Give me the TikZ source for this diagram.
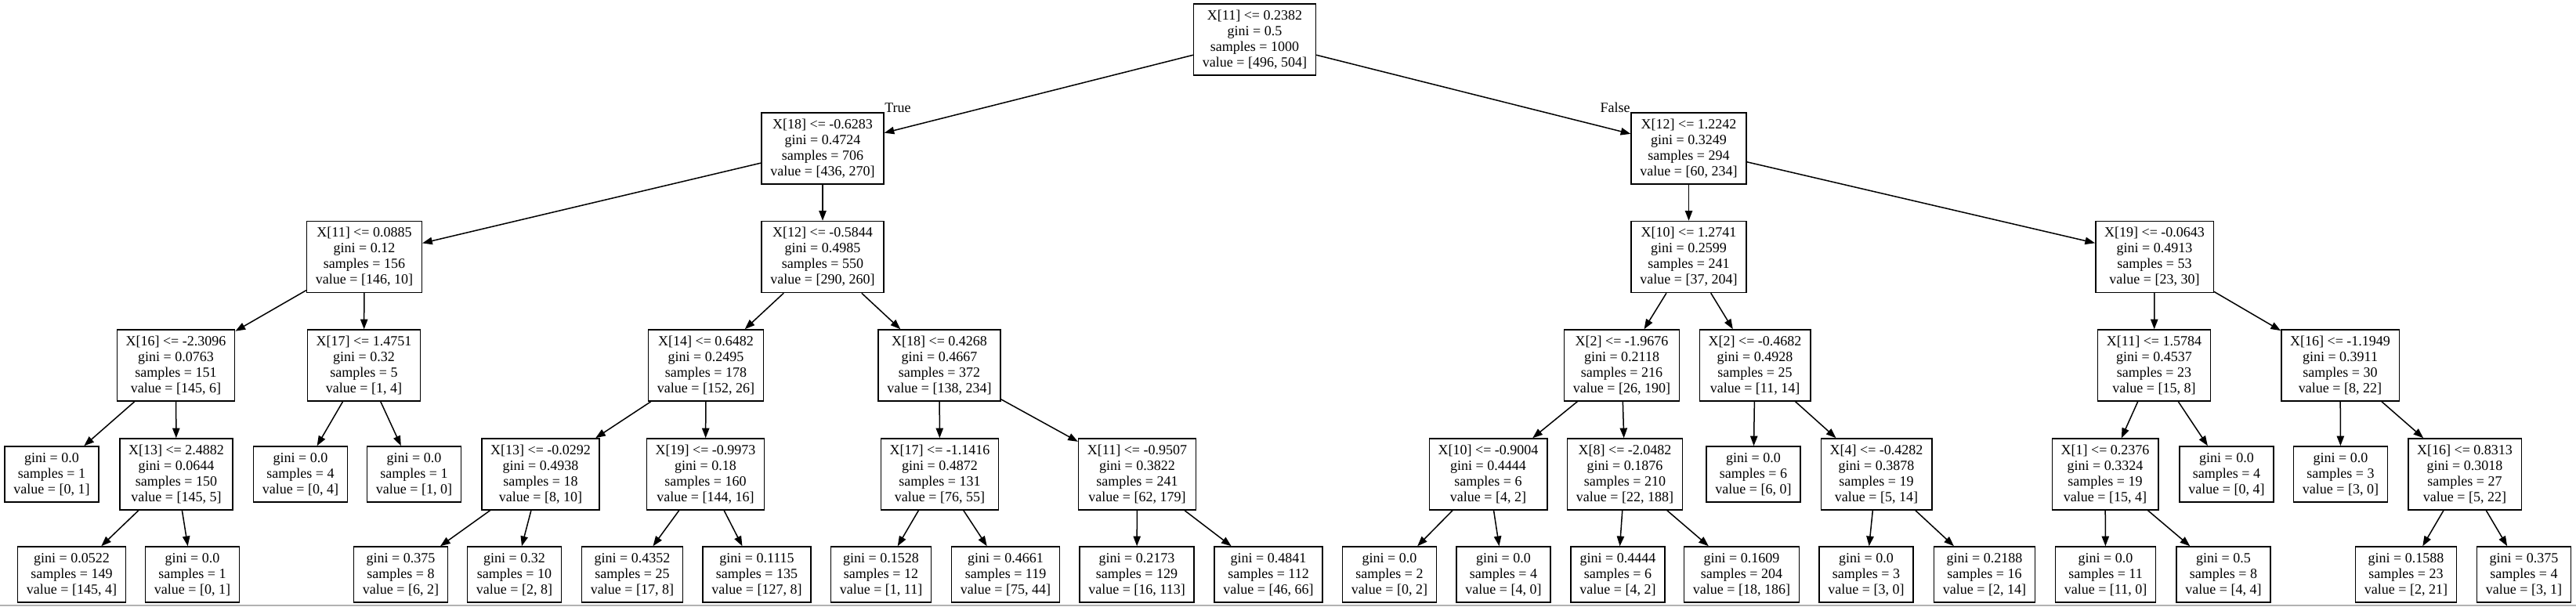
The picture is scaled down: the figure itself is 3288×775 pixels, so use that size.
\documentclass[tikz,border=0pt]{standalone}
\usepackage{fontspec}
\setmainfont{Liberation Serif}
\usetikzlibrary{arrows.meta}

\begin{document}
\begin{tikzpicture}[
  x=0.3pt, y=-0.3pt,
  split/.style={draw, rectangle, align=center, line width=0.45pt, inner xsep=3.4pt, inner ysep=0pt,
    minimum height=27.3pt, font=\fontsize{5.4pt}{6pt}\selectfont},
  leaf/.style={split, minimum height=21.3pt},
  lbl/.style={inner sep=0pt, font=\fontsize{5.4pt}{6pt}\selectfont},
  >={Triangle[length=3.8pt, width=2.8pt]},
]
  \useasboundingbox (0,0) rectangle (3288,775);
  \draw[gray!60, line width=0.6pt] (0,773) -- (3288,773);

  % level 0 and 1
  \node[split] (root) at (1601.5,50.5) {X[11] <= 0.2382\\gini = 0.5\\samples = 1000\\value = [496, 504]};
  \node[split] (n18a) at (1050,189.5) {X[18] <= -0.6283\\gini = 0.4724\\samples = 706\\value = [436, 270]};
  \node[split] (n12a) at (2155.5,189.5) {X[12] <= 1.2242\\gini = 0.3249\\samples = 294\\value = [60, 234]};
  \node[lbl, anchor=base west] (tlbl) at (n18a.north east) {True};
  \node[lbl, anchor=base east] (flbl) at (n12a.north west) {False};

  % level 2
  \node[split] (n11a) at (465,328) {X[11] <= 0.0885\\gini = 0.12\\samples = 156\\value = [146, 10]};
  \node[split] (n12b) at (1050,328) {X[12] <= -0.5844\\gini = 0.4985\\samples = 550\\value = [290, 260]};
  \node[split] (n10a) at (2155.5,328) {X[10] <= 1.2741\\gini = 0.2599\\samples = 241\\value = [37, 204]};
  \node[split] (n19a) at (2750,328) {X[19] <= -0.0643\\gini = 0.4913\\samples = 53\\value = [23, 30]};

  % level 3
  \node[split] (n16a) at (224.5,466.5) {X[16] <= -2.3096\\gini = 0.0763\\samples = 151\\value = [145, 6]};
  \node[split] (n17a) at (464.5,466.5) {X[17] <= 1.4751\\gini = 0.32\\samples = 5\\value = [1, 4]};
  \node[split] (n14a) at (901,466.5) {X[14] <= 0.6482\\gini = 0.2495\\samples = 178\\value = [152, 26]};
  \node[split] (n18b) at (1199,466.5) {X[18] <= 0.4268\\gini = 0.4667\\samples = 372\\value = [138, 234]};
  \node[split] (n2a) at (2070,466.5) {X[2] <= -1.9676\\gini = 0.2118\\samples = 216\\value = [26, 190]};
  \node[split] (n2b) at (2240,466.5) {X[2] <= -0.4682\\gini = 0.4928\\samples = 25\\value = [11, 14]};
  \node[split] (n11b) at (2749.5,466.5) {X[11] <= 1.5784\\gini = 0.4537\\samples = 23\\value = [15, 8]};
  \node[split] (n16b) at (2987,466.5) {X[16] <= -1.1949\\gini = 0.3911\\samples = 30\\value = [8, 22]};

  % level 4
  \node[leaf] (l1) at (66,605.5) {gini = 0.0\\samples = 1\\value = [0, 1]};
  \node[split] (n13a) at (225,605.5) {X[13] <= 2.4882\\gini = 0.0644\\samples = 150\\value = [145, 5]};
  \node[leaf] (l2) at (383.5,605.5) {gini = 0.0\\samples = 4\\value = [0, 4]};
  \node[leaf] (l3) at (528.5,605.5) {gini = 0.0\\samples = 1\\value = [1, 0]};
  \node[split] (n13b) at (690,605.5) {X[13] <= -0.0292\\gini = 0.4938\\samples = 18\\value = [8, 10]};
  \node[split] (n19b) at (900.5,605.5) {X[19] <= -0.9973\\gini = 0.18\\samples = 160\\value = [144, 16]};
  \node[split] (n17b) at (1199.5,605.5) {X[17] <= -1.1416\\gini = 0.4872\\samples = 131\\value = [76, 55]};
  \node[split] (n11c) at (1451.5,605.5) {X[11] <= -0.9507\\gini = 0.3822\\samples = 241\\value = [62, 179]};
  \node[split] (n10b) at (1899.5,605.5) {X[10] <= -0.9004\\gini = 0.4444\\samples = 6\\value = [4, 2]};
  \node[split] (n8a) at (2074,605.5) {X[8] <= -2.0482\\gini = 0.1876\\samples = 210\\value = [22, 188]};
  \node[leaf] (l4) at (2238,605.5) {gini = 0.0\\samples = 6\\value = [6, 0]};
  \node[split] (n4a) at (2395,605.5) {X[4] <= -0.4282\\gini = 0.3878\\samples = 19\\value = [5, 14]};
  \node[split] (n1a) at (2687,605.5) {X[1] <= 0.2376\\gini = 0.3324\\samples = 19\\value = [15, 4]};
  \node[leaf] (l5) at (2842,605.5) {gini = 0.0\\samples = 4\\value = [0, 4]};
  \node[leaf] (l6) at (2987.5,605.5) {gini = 0.0\\samples = 3\\value = [3, 0]};
  \node[split] (n16c) at (3146,605.5) {X[16] <= 0.8313\\gini = 0.3018\\samples = 27\\value = [5, 22]};

  % level 5
  \node[leaf] (m1) at (91.5,733.5) {gini = 0.0522\\samples = 149\\value = [145, 4]};
  \node[leaf] (m2) at (245.5,733.5) {gini = 0.0\\samples = 1\\value = [0, 1]};
  \node[leaf] (m3) at (511.5,733.5) {gini = 0.375\\samples = 8\\value = [6, 2]};
  \node[leaf] (m4) at (656.5,733.5) {gini = 0.32\\samples = 10\\value = [2, 8]};
  \node[leaf] (m5) at (807,733.5) {gini = 0.4352\\samples = 25\\value = [17, 8]};
  \node[leaf] (m6) at (966,733.5) {gini = 0.1115\\samples = 135\\value = [127, 8]};
  \node[leaf] (m7) at (1124.5,733.5) {gini = 0.1528\\samples = 12\\value = [1, 11]};
  \node[leaf] (m8) at (1283.5,733.5) {gini = 0.4661\\samples = 119\\value = [75, 44]};
  \node[leaf] (m9) at (1451,733.5) {gini = 0.2173\\samples = 129\\value = [16, 113]};
  \node[leaf] (m10) at (1619,733.5) {gini = 0.4841\\samples = 112\\value = [46, 66]};
  \node[leaf] (m11) at (1773.5,733.5) {gini = 0.0\\samples = 2\\value = [0, 2]};
  \node[leaf] (m12) at (1919,733.5) {gini = 0.0\\samples = 4\\value = [4, 0]};
  \node[leaf] (m13) at (2065,733.5) {gini = 0.4444\\samples = 6\\value = [4, 2]};
  \node[leaf] (m14) at (2223,733.5) {gini = 0.1609\\samples = 204\\value = [18, 186]};
  \node[leaf] (m15) at (2382,733.5) {gini = 0.0\\samples = 3\\value = [3, 0]};
  \node[leaf] (m16) at (2533,733.5) {gini = 0.2188\\samples = 16\\value = [2, 14]};
  \node[leaf] (m17) at (2687.5,733.5) {gini = 0.0\\samples = 11\\value = [11, 0]};
  \node[leaf] (m18) at (2838,733.5) {gini = 0.5\\samples = 8\\value = [4, 4]};
  \node[leaf] (m19) at (3071,733.5) {gini = 0.1588\\samples = 23\\value = [2, 21]};
  \node[leaf] (m20) at (3221.5,733.5) {gini = 0.375\\samples = 4\\value = [3, 1]};

  \foreach \a/\b in {root/n18a, root/n12a, n18a/n11a, n18a/n12b, n11a/n16a, n11a/n17a,
      n16a/l1, n16a/n13a, n13a/m1, n13a/m2, n17a/l2, n17a/l3, n12b/n14a, n12b/n18b,
      n14a/n13b, n14a/n19b, n13b/m3, n13b/m4, n19b/m5, n19b/m6, n18b/n17b, n18b/n11c,
      n17b/m7, n17b/m8, n11c/m9, n11c/m10, n12a/n10a, n12a/n19a, n10a/n2a, n10a/n2b,
      n2a/n10b, n2a/n8a, n10b/m11, n10b/m12, n8a/m13, n8a/m14, n2b/l4, n2b/n4a,
      n4a/m15, n4a/m16, n19a/n11b, n19a/n16b, n11b/n1a, n11b/l5, n1a/m17, n1a/m18,
      n16b/l6, n16b/n16c, n16c/m19, n16c/m20}
    \draw[->, line width=0.45pt] (\a) -- (\b);
\end{tikzpicture}
\end{document}
